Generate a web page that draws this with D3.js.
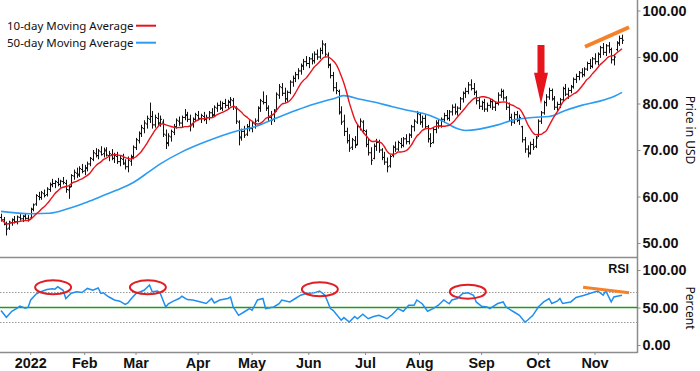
<!DOCTYPE html>
<html>
<head>
<meta charset="utf-8">
<script src="https://cdn.jsdelivr.net/npm/d3@7"></script>
<style>
  body { margin: 0; background: #fff; }
  svg { display: block; }
  .legend text, .unit { font-family: "Noto Sans", sans-serif; font-size: 11.5px; fill: #111; }
  .axis text, .month { font-family: "Liberation Sans", Arial, sans-serif; font-weight: bold; font-size: 14.4px; fill: #111; }
</style>
</head>
<body>
<svg id="chart" width="700" height="371"></svg>
<script>
// daily bars, 16 Dec 2021 .. 15 Nov 2022 (trading-day index 0..230)
const opens = [55.5,55.0,54.0,53.2,54.4,55.0,54.6,55.5,55.2,55.7,55.3,55.4,57.3,58.4,60.0,59.8,60.6,60.4,61.5,62.5,
  62.8,63.0,62.6,63.2,62.8,61.4,62.2,64.4,65.0,64.8,65.8,65.5,66.0,67.0,68.0,69.2,68.8,69.6,69.2,69.8,
  68.8,69.0,68.2,68.6,67.5,68.0,67.0,66.4,67.6,68.4,70.5,72.0,73.5,74.6,75.6,76.6,77.2,75.4,76.8,75.8,
  76.0,73.2,71.6,72.8,73.8,75.0,76.2,75.8,77.0,77.4,76.6,75.4,76.6,77.4,76.8,77.2,76.6,77.0,78.0,77.6,
  79.0,79.6,79.0,80.0,79.6,80.2,80.6,79.0,76.0,72.8,74.0,73.4,75.0,74.6,75.6,76.4,79.0,80.4,80.2,79.0,
  77.0,76.6,78.6,81.8,83.4,82.2,81.0,82.4,84.6,85.4,86.2,87.0,88.0,89.0,88.6,89.6,89.2,90.6,90.0,91.4,
  92.6,90.4,88.2,86.0,83.4,82.6,78.0,76.2,74.0,72.0,70.6,72.0,71.2,75.0,76.0,74.0,71.2,69.4,68.2,70.8,
  71.6,70.0,68.4,67.4,66.6,68.8,70.6,70.2,71.4,71.0,72.4,71.8,73.2,75.0,76.0,77.6,76.0,76.8,75.0,72.4,
  71.6,74.4,75.8,75.2,76.6,77.4,76.8,78.2,79.2,78.2,79.0,81.0,82.2,82.6,84.0,83.2,82.4,80.6,79.4,80.2,
  78.8,79.6,80.4,79.2,80.0,81.8,82.6,81.2,79.2,77.0,76.0,77.6,76.4,75.0,72.2,70.2,69.4,71.2,70.8,73.0,
  76.2,78.0,80.2,81.4,82.8,81.0,79.2,79.8,80.8,83.2,82.0,82.8,83.6,85.2,85.8,86.6,86.2,87.4,88.6,88.0,
  89.6,89.0,90.6,92.0,91.0,92.4,91.6,89.4,91.6,93.0,94.0];
const highs = [56.3,55.6,54.6,54.8,55.3,55.8,55.9,56.2,56.0,56.4,56.0,57.6,58.5,60.5,61.0,61.2,61.5,62.0,63.0,63.8,
  63.5,64.0,63.6,64.2,63.6,62.5,64.8,65.8,66.2,66.5,67.0,66.8,67.5,68.5,70.0,70.4,70.2,70.8,70.5,70.6,
  69.8,70.2,69.4,69.6,68.8,69.2,68.0,68.6,69.0,71.0,72.6,74.0,75.4,76.4,77.4,80.2,78.4,77.6,78.0,77.4,
  76.6,74.4,73.6,74.4,75.6,76.8,77.2,77.4,78.8,78.2,77.6,77.0,78.0,78.4,77.8,78.2,77.6,78.4,79.0,79.6,
  80.2,80.6,80.4,81.0,80.8,81.4,81.2,79.4,76.4,74.6,75.2,75.6,76.4,76.2,76.8,79.4,81.0,82.6,81.8,79.6,
  78.4,78.8,82.4,84.2,84.4,83.4,82.8,85.0,86.0,86.8,87.6,88.6,89.6,90.2,90.0,90.8,91.2,91.6,92.0,93.6,
  93.0,91.0,88.6,86.8,84.6,83.0,79.4,77.6,74.8,73.4,72.6,73.0,75.6,76.8,76.4,74.4,72.4,70.6,71.4,72.4,
  72.2,70.4,69.6,68.4,69.0,71.0,71.8,72.0,72.6,72.8,73.4,73.6,75.4,76.6,78.4,78.0,77.4,77.6,75.4,73.6,
  74.8,76.4,76.6,77.0,78.0,78.6,78.6,79.8,80.0,79.4,81.4,82.6,83.4,84.6,85.2,84.4,82.8,81.4,80.6,81.0,
  80.2,81.0,81.0,80.4,82.4,83.2,83.0,81.6,80.2,77.8,78.2,78.4,77.6,75.2,72.8,71.0,71.8,72.4,73.0,76.6,
  78.4,80.6,82.0,83.4,83.2,81.6,80.4,81.2,83.6,84.2,83.4,84.0,85.6,86.4,87.0,87.6,87.8,89.0,89.6,90.0,
  90.8,91.0,92.4,93.0,92.8,93.2,92.0,90.6,93.4,94.6,94.8];
const lows = [54.6,53.8,51.6,52.8,53.7,54.2,54.0,54.8,54.5,55.0,54.6,55.2,56.8,58.0,59.2,59.3,59.8,60.0,61.0,62.0,
  61.8,62.2,61.9,62.6,60.8,59.5,62.0,63.6,64.0,64.2,65.0,64.6,65.4,66.5,67.6,68.4,68.0,68.8,68.4,68.6,
  67.6,67.8,67.2,67.0,66.5,66.8,65.8,65.2,66.6,68.0,70.0,71.4,72.8,73.6,74.6,75.8,74.6,74.8,75.2,75.0,
  72.8,70.2,70.8,71.8,73.2,74.6,75.2,74.8,76.4,76.0,74.0,74.8,76.0,76.4,75.8,76.2,75.6,76.4,77.0,77.2,
  78.2,78.6,78.4,79.0,78.8,79.4,78.6,75.6,71.0,72.0,72.6,73.0,74.0,73.8,74.6,76.0,78.2,79.8,78.4,76.2,
  75.4,76.0,78.2,81.0,81.6,80.2,80.4,82.0,83.6,84.6,85.2,86.2,87.2,88.0,87.6,88.4,88.6,89.4,89.6,90.6,
  90.0,87.6,85.4,82.6,82.0,77.6,75.4,73.0,71.4,69.6,70.0,70.4,71.0,74.2,73.6,70.6,68.8,66.8,68.0,69.8,
  69.4,67.8,66.8,65.2,66.2,68.4,69.6,69.8,70.4,70.6,71.2,71.2,72.6,74.0,75.6,75.4,74.8,74.6,71.6,70.6,
  71.4,73.6,74.6,74.8,75.8,76.4,76.2,77.4,77.6,77.4,78.6,80.2,81.2,82.0,82.8,81.8,79.8,78.8,78.6,78.2,
  78.2,79.0,78.6,78.4,79.6,81.2,80.6,78.6,76.2,75.2,75.6,76.0,75.4,71.6,69.4,68.4,69.0,70.0,70.4,72.8,
  75.6,77.6,79.4,80.8,80.6,78.6,78.2,79.0,80.4,81.6,81.0,82.2,83.2,84.4,85.0,85.6,85.8,87.0,87.4,87.6,
  88.4,88.2,89.8,90.4,90.2,90.8,88.6,88.2,91.2,92.4,92.8];
const closes = [55.0,54.2,53.0,54.5,55.0,54.6,55.6,55.2,55.8,55.3,55.1,57.2,58.2,60.2,59.8,60.8,60.2,61.6,62.6,62.8,
  63.2,62.6,63.3,63.0,61.5,62.0,64.5,65.2,64.6,66.0,65.4,66.2,67.0,68.2,69.4,68.8,69.8,69.0,70.0,68.9,
  69.2,68.2,68.8,67.5,68.2,67.2,66.4,67.8,68.6,70.6,72.2,73.6,74.8,75.8,76.8,77.2,75.4,77.0,75.8,76.6,
  73.4,71.4,73.0,74.0,75.0,76.4,75.8,77.0,77.6,76.6,75.2,76.6,77.6,76.8,77.4,76.6,77.0,78.0,77.4,79.2,
  79.6,79.0,80.0,79.6,80.4,80.8,79.4,76.2,72.6,74.0,73.2,75.0,74.6,75.8,76.2,79.0,80.6,80.2,79.0,77.0,
  76.4,78.4,82.0,83.6,82.2,81.0,82.4,84.6,85.4,86.2,87.0,88.2,89.0,88.6,89.6,89.2,90.6,90.0,91.4,92.8,
  90.6,88.4,86.0,83.4,82.8,78.2,76.0,74.0,72.0,70.4,72.2,71.0,75.0,76.2,74.2,71.2,69.4,67.8,70.8,71.6,
  70.0,68.4,67.4,66.4,68.6,70.6,70.2,71.6,71.0,72.4,71.8,73.2,75.0,76.2,77.8,76.0,76.8,75.0,72.4,71.4,
  74.4,75.8,75.2,76.6,77.4,76.8,78.2,79.2,78.2,79.0,81.0,82.2,82.6,84.0,83.2,82.4,80.6,79.4,80.2,78.8,
  79.6,80.4,79.2,80.0,81.8,82.6,81.2,79.2,77.0,76.0,77.6,76.4,77.0,72.2,70.2,69.2,71.2,70.6,72.6,76.2,
  78.0,80.2,81.4,82.8,81.0,79.2,79.8,80.8,83.2,82.0,82.8,83.6,85.2,85.8,86.6,86.2,87.4,88.6,88.0,89.6,
  89.0,90.6,92.0,91.0,92.4,91.6,89.4,90.0,93.0,94.0,93.6];

// 50-day moving average, read at these trading days
const ma50Days   = [0, 11, 18, 25, 31, 37, 43, 49, 55, 59, 67, 75, 88, 94, 100, 106, 113, 124, 127, 133,
  139, 145, 151, 158, 164, 169, 172, 184, 190, 197, 203, 209, 215, 221, 227, 230];
const ma50Values = [56.8, 56.3, 56.4, 57.4, 58.6, 60.0, 61.4, 63.0, 65.4, 67.0, 69.6, 71.6, 74.2, 75.0, 76.4, 77.8, 79.3, 81.2, 81.7, 80.9,
  80.2, 79.3, 78.5, 77.6, 76.1, 74.6, 74.2, 75.4, 76.5, 77.0, 77.2, 78.5, 79.6, 80.4, 81.5, 82.4];

// RSI, read at these trading days
const rsiDays = [0, 2, 4, 6, 7, 9, 10, 11, 13, 14, 17, 19, 20, 21, 23, 24, 26, 28, 30, 32, 34, 36, 37, 38, 39, 40,
  42, 44, 46, 47, 48, 50, 53, 55, 56, 58, 59, 61, 62, 64, 66, 67, 69, 71, 74, 76, 78, 79, 81, 84, 85, 86,
  88, 90, 92, 93, 95, 97, 98, 101, 103, 104, 107, 109, 111, 113, 116, 118, 120, 122, 123, 126, 127, 129,
  131, 132, 134, 136, 138, 140, 143, 145, 147, 149, 151, 153, 154, 156, 158, 160, 162, 164, 166, 167, 169,
  171, 173, 175, 176, 178, 180, 181, 184, 186, 187, 189, 190, 192, 194, 195, 197, 199, 201, 203, 204, 206,
  207, 208, 211, 213, 216, 218, 221, 223, 224, 226, 227, 230];
const rsiValues = [46, 37, 45, 49, 52, 49, 50, 60, 68, 70, 74, 75, 74.5, 77.6, 73, 62, 69, 71, 70, 75.4, 73, 76, 68.7, 69.5, 66.4, 64,
  60, 58.4, 54, 56, 60.6, 68.7, 73, 80, 71, 72, 68.7, 50.7, 55, 58.8, 62, 65, 60.6, 60, 57.4, 55.3, 62, 56, 60, 62, 64, 50.7,
  39.6, 44, 48.6, 46.3, 60, 62, 48.6, 50.7, 55, 60, 57.4, 62, 66.4, 68.7, 69.5, 72, 66.4, 48.6, 46.3, 33, 36.5, 30.6,
  38, 35, 41, 35, 38, 39.6, 35, 41, 48.6, 45, 53, 53, 60, 55, 45, 48.6, 53, 60, 55, 60, 62,
  68.7, 69.5, 66.4, 57.4, 51.7, 50.7, 48.6, 55.3, 57.4, 50.7, 46.3, 44, 39.6, 30.6, 33, 39.6, 50.7, 57.4, 62, 55.3, 58.4,
  62, 55.3, 57.4, 63.4, 66.4, 68.7, 72, 66.4, 72, 57.4, 64, 66.4];

const monthLabels = ["2022", "Feb", "Mar", "Apr", "May", "Jun", "Jul", "Aug", "Sep", "Oct", "Nov"];
const monthDays   = [11, 31, 50, 73, 93, 114, 135, 155, 178, 199, 220];
const priceTicks  = [50, 60, 70, 80, 90, 100];
const rsiTicks    = [0, 50, 100];

// annotations: [day, value]
const rsiRings   = [[19.3, 76.9], [54.4, 76.9], [118.1, 74.3], [172.9, 71.1]];
const priceTrend = [[216.3, 92.2], [232.6, 96.4]];
const rsiTrend   = [[215.6, 76.9], [232.6, 69.7]];
const arrowDay = 200, arrowTop = 92.6, arrowNeck = 86.6, arrowTip = 79.9;

const svg = d3.select("#chart");
const right = 637.5;

const x = d3.scaleLinear().domain([0, 230]).range([1, 622]);
const yPrice = d3.scaleLinear().domain([50, 100]).range([243, 10.5]);
const yRsi = d3.scaleLinear().domain([0, 100]).range([345, 270]);

// panel frames
svg.append("line").attr("x1", 0).attr("x2", right).attr("y1", 257.5).attr("y2", 257.5)
   .attr("stroke", "#8c8c8c").attr("stroke-width", 1.5);
svg.append("line").attr("x1", 0).attr("x2", right).attr("y1", 352.5).attr("y2", 352.5)
   .attr("stroke", "#8c8c8c").attr("stroke-width", 1.5);
svg.append("line").attr("x1", right).attr("x2", right).attr("y1", 0).attr("y2", 353)
   .attr("stroke", "#8c8c8c").attr("stroke-width", 1.5);

// right axes
svg.append("g").attr("class", "axis").attr("transform", `translate(${right},0)`)
   .call(d3.axisRight(yPrice).tickValues(priceTicks).tickFormat(d3.format(".2f")).tickSize(3).tickPadding(2));
svg.append("g").attr("class", "axis").attr("transform", `translate(${right},0)`)
   .call(d3.axisRight(yRsi).tickValues(rsiTicks).tickFormat(d3.format(".2f")).tickSize(3).tickPadding(2));
svg.selectAll(".axis .domain").remove();
svg.selectAll(".axis line").attr("stroke", "#8c8c8c");
svg.selectAll(".axis text").attr("font-family", null).attr("font-size", null);

svg.append("text").attr("class", "unit").attr("transform", "translate(686,130) rotate(90)")
   .attr("text-anchor", "middle").style("font-size", "12px").text("Price in USD");
svg.append("text").attr("class", "unit").attr("transform", "translate(686,308) rotate(90)")
   .attr("text-anchor", "middle").style("font-size", "12px").text("Percent");

// month axis
svg.selectAll(".mtick").data(monthDays).enter().append("line")
   .attr("x1", d => x(d)).attr("x2", d => x(d)).attr("y1", 352).attr("y2", 355)
   .attr("stroke", "#8c8c8c");
svg.selectAll(".month").data(monthLabels).enter().append("text")
   .attr("class", "month").attr("x", (d, i) => x(monthDays[i])).attr("y", 368)
   .attr("text-anchor", "middle").text(d => d);

// RSI guides
[70, 30].forEach(v => svg.append("line").attr("x1", 0).attr("x2", right).attr("y1", yRsi(v)).attr("y2", yRsi(v))
   .attr("stroke", "#999").attr("stroke-dasharray", "1.5,1.5"));
svg.append("line").attr("x1", 0).attr("x2", right).attr("y1", yRsi(50)).attr("y2", yRsi(50))
   .attr("stroke", "#1e9a1e").attr("stroke-width", 1.6);

// OHLC bars
const bars = svg.append("g").attr("stroke", "#111").attr("stroke-width", 1);
bars.selectAll("path").data(closes).enter().append("path")
   .attr("d", (c, i) => {
     const bx = Math.round(x(i)) + 0.5;
     return `M${bx},${yPrice(highs[i])}V${yPrice(lows[i])}` +
            `M${bx - 1.5},${yPrice(opens[i])}H${bx}` +
            `M${bx},${yPrice(c)}H${bx + 1.5}`;
   });

// moving averages
const ma10 = closes.map((c, i) => d3.mean(closes.slice(Math.max(0, i - 9), i + 1)));
svg.append("path").datum(ma50Values)
   .attr("d", d3.line().x((d, i) => x(ma50Days[i])).y(d => yPrice(d)).curve(d3.curveMonotoneX))
   .attr("fill", "none").attr("stroke", "#2b9cf2").attr("stroke-width", 1.6);
svg.append("path").datum(ma10)
   .attr("d", d3.line().x((d, i) => x(i)).y(d => yPrice(d)).curve(d3.curveMonotoneX))
   .attr("fill", "none").attr("stroke", "#e8141c").attr("stroke-width", 1.4);

// RSI line
svg.append("path").datum(rsiValues)
   .attr("d", d3.line().x((d, i) => x(rsiDays[i])).y(d => yRsi(d)))
   .attr("fill", "none").attr("stroke", "#1e8ff0").attr("stroke-width", 1.5);
svg.append("text").attr("x", 629).attr("y", 272.5).attr("text-anchor", "end")
   .attr("font-family", "Liberation Sans, Arial, sans-serif").attr("font-weight", "bold")
   .attr("font-size", 12.5).attr("fill", "#111").text("RSI");

// annotations
svg.selectAll(".ring").data(rsiRings).enter().append("ellipse")
   .attr("cx", d => x(d[0])).attr("cy", d => yRsi(d[1])).attr("rx", 18).attr("ry", 7)
   .attr("fill", "none").attr("stroke", "#e01e24").attr("stroke-width", 2);
svg.append("line").attr("x1", x(priceTrend[0][0])).attr("y1", yPrice(priceTrend[0][1]))
   .attr("x2", x(priceTrend[1][0])).attr("y2", yPrice(priceTrend[1][1]))
   .attr("stroke", "#f5822a").attr("stroke-width", 4);
svg.append("line").attr("x1", x(rsiTrend[0][0])).attr("y1", yRsi(rsiTrend[0][1]))
   .attr("x2", x(rsiTrend[1][0])).attr("y2", yRsi(rsiTrend[1][1]))
   .attr("stroke", "#f5822a").attr("stroke-width", 3);

const ax = x(arrowDay);
svg.append("path")
   .attr("d", `M${ax - 3.5},${yPrice(arrowTop)}H${ax + 3.5}V${yPrice(arrowNeck)}H${ax + 7}` +
              `L${ax},${yPrice(arrowTip)}L${ax - 7},${yPrice(arrowNeck)}H${ax - 3.5}Z`)
   .attr("fill", "#e8141c");

// legend
const legend = svg.append("g").attr("class", "legend");
const legendItems = [["10-day Moving Average", "#e8141c", 29.5], ["50-day Moving Average", "#2b9cf2", 46.5]];
legendItems.forEach(([label, color, by]) => {
  legend.append("text").attr("x", 7).attr("y", by).text(label);
  legend.append("line").attr("x1", 136).attr("x2", 156).attr("y1", by - 3.8).attr("y2", by - 3.8)
        .attr("stroke", color).attr("stroke-width", 2);
});
</script>
</body>
</html>
